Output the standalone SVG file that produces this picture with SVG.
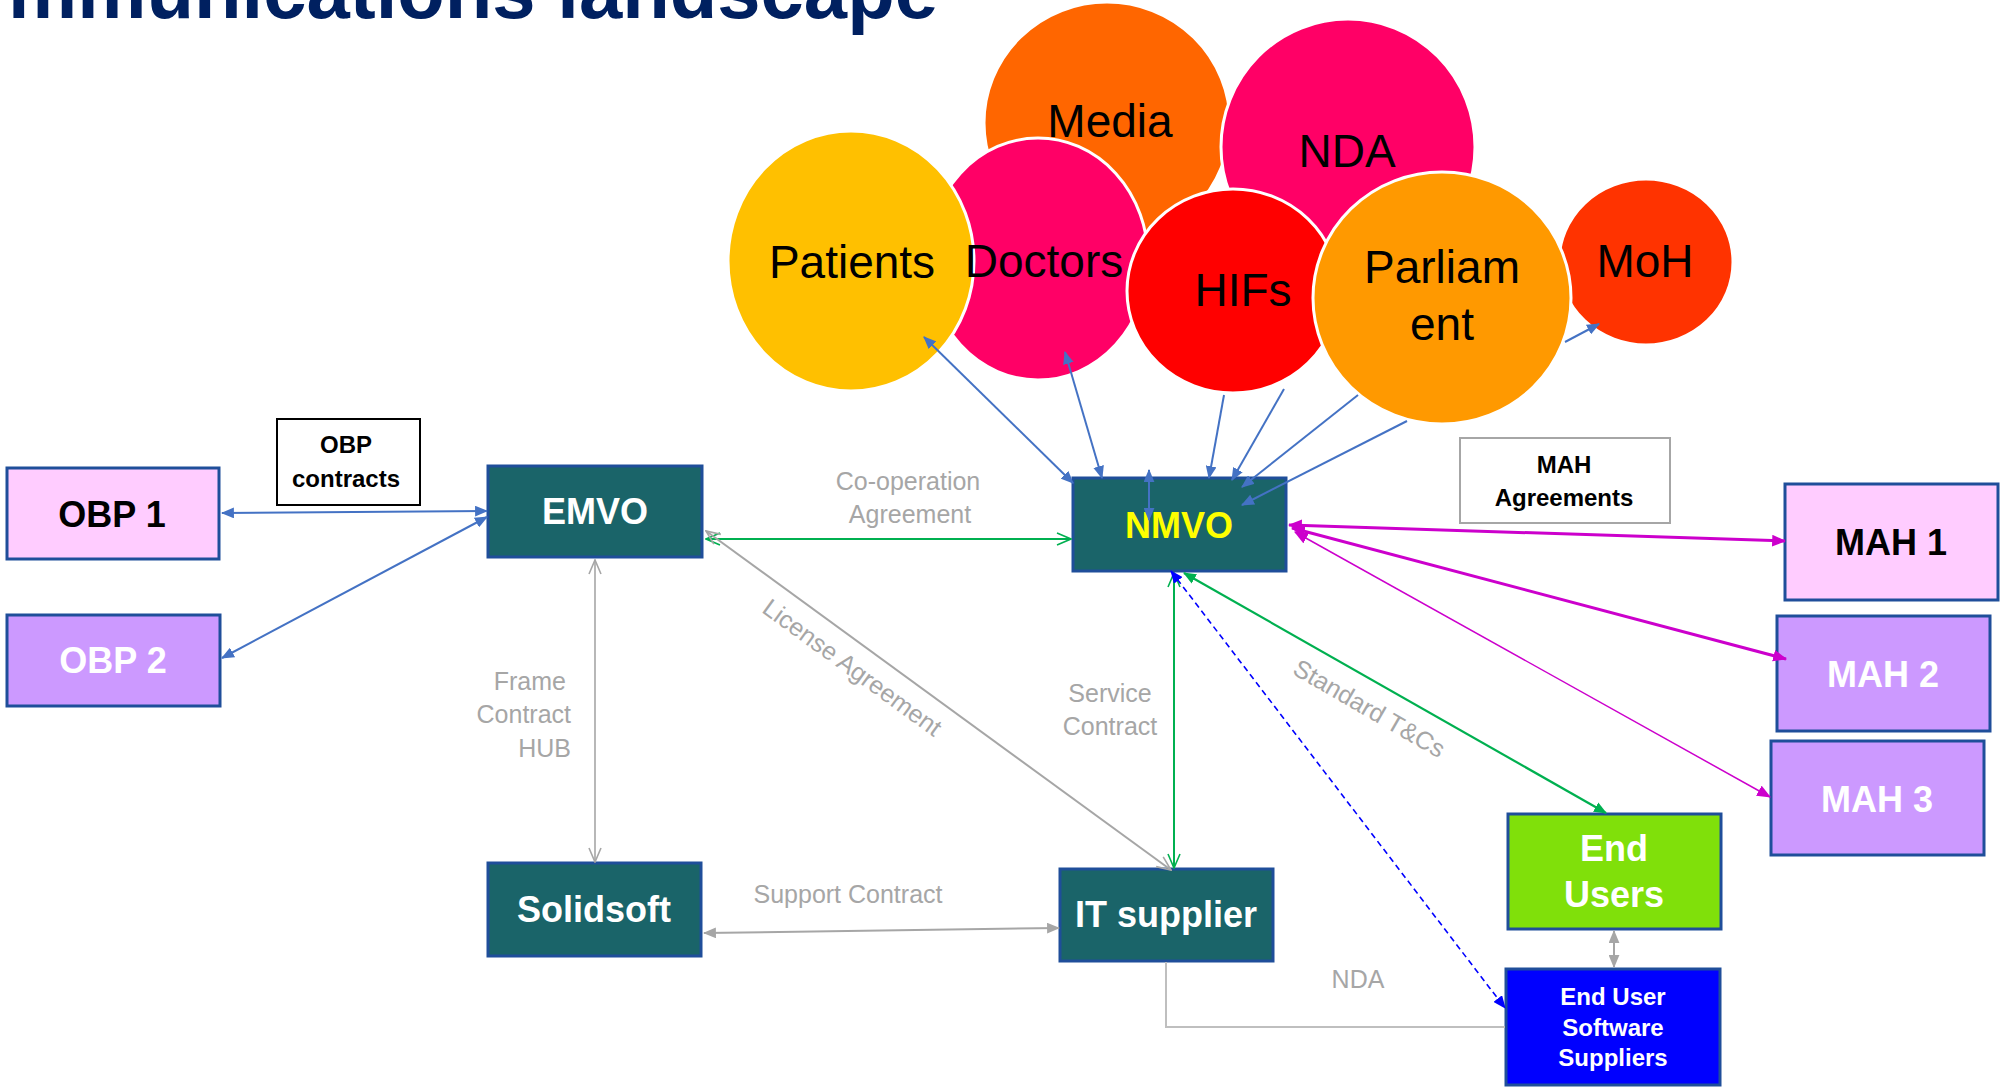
<svg xmlns="http://www.w3.org/2000/svg" width="2000" height="1088" viewBox="0 0 2000 1088">
<style>
text{font-family:"Liberation Sans",Arial,sans-serif;text-anchor:middle}
.title{font-size:80px;font-weight:bold;fill:#002060;text-anchor:start}
.circ{stroke:#fff;stroke-width:3}
.ctx{fill:#000;font-size:46px}
.box{stroke:#1F4E9A;stroke-width:3}
.teal{fill:#1A6469}
.lbl{font-size:36px;font-weight:bold}
.note{fill:#fff;stroke:#000;stroke-width:2}
.notetx{font-size:24px;font-weight:bold;fill:#000}
.gl{font-size:25px;fill:#A6A6A6}
.c{fill:none}
</style>
<defs>
<marker id="aBlue" viewBox="0 0 12 10" refX="11" refY="5" markerWidth="13" markerHeight="11" markerUnits="userSpaceOnUse" orient="auto-start-reverse"><path d="M0,0 L12,5 L0,10 z" fill="#4472C4"/></marker>
<marker id="aMag" viewBox="0 0 12 10" refX="11" refY="5" markerWidth="14" markerHeight="12" markerUnits="userSpaceOnUse" orient="auto-start-reverse"><path d="M0,0 L12,5 L0,10 z" fill="#CC00CC"/></marker>
<marker id="aGreen" viewBox="0 0 12 10" refX="11" refY="5" markerWidth="13" markerHeight="11" markerUnits="userSpaceOnUse" orient="auto-start-reverse"><path d="M0,0 L12,5 L0,10 z" fill="#00B050"/></marker>
<marker id="aPB" viewBox="0 0 12 10" refX="11" refY="5" markerWidth="13" markerHeight="11" markerUnits="userSpaceOnUse" orient="auto-start-reverse"><path d="M0,0 L12,5 L0,10 z" fill="#0000FF"/></marker>
<marker id="aGray" viewBox="0 0 12 10" refX="11" refY="5" markerWidth="13" markerHeight="11" markerUnits="userSpaceOnUse" orient="auto-start-reverse"><path d="M0,0 L12,5 L0,10 z" fill="#A6A6A6"/></marker>
<marker id="oGray" viewBox="0 0 16 14" refX="15" refY="7" markerWidth="16" markerHeight="14" markerUnits="userSpaceOnUse" orient="auto-start-reverse"><path d="M1,1 L15,7 L1,13" fill="none" stroke="#A6A6A6" stroke-width="1.6"/></marker>
<marker id="oGreen" viewBox="0 0 16 14" refX="15" refY="7" markerWidth="16" markerHeight="14" markerUnits="userSpaceOnUse" orient="auto-start-reverse"><path d="M1,1 L15,7 L1,13" fill="none" stroke="#00B050" stroke-width="1.6"/></marker>
</defs>
<rect width="2000" height="1088" fill="#fff"/>
<text class="title" x="8" y="18" textLength="930" lengthAdjust="spacingAndGlyphs">mmunications landscape</text>

<g id="circles">
<g id="media"><ellipse class="circ" cx="1107" cy="123" rx="123" ry="121" fill="#FF6600"/><text class="ctx" x="1110" y="137" font-size="50">Media</text></g>
<g id="nda"><ellipse class="circ" cx="1348" cy="147" rx="127" ry="128" fill="#FF0066"/><text class="ctx" x="1347" y="167">NDA</text></g>
<g id="moh"><ellipse class="circ" cx="1646" cy="262" rx="87" ry="83" fill="#FF3300"/><text class="ctx" x="1645" y="277" font-size="50">MoH</text></g>
<g id="doctors"><ellipse class="circ" cx="1038" cy="259" rx="110" ry="121" fill="#FF0066"/></g>
<g id="patients"><ellipse class="circ" cx="851" cy="261" rx="123" ry="130" fill="#FFC000"/><text class="ctx" x="852" y="278" font-size="42">Patients</text></g>
<text id="doctors-label" class="ctx" x="1044" y="277" font-size="42">Doctors</text>
<g id="hifs"><ellipse class="circ" cx="1233" cy="291" rx="106" ry="102" fill="#FF0000"/><text class="ctx" x="1243" y="306">HIFs</text></g>
<g id="parliament"><ellipse class="circ" cx="1442" cy="298" rx="129" ry="126" fill="#FF9900"/><text class="ctx" x="1442" y="283">Parliam</text><text class="ctx" x="1442" y="340">ent</text></g>
</g>

<g id="obp-contracts"><rect class="note" x="277" y="419" width="143" height="86"/><text class="notetx" x="346" y="453">OBP</text><text class="notetx" x="346" y="487">contracts</text></g>
<g id="mah-agreements"><rect x="1460" y="438" width="210" height="85" fill="#fff" stroke="#A6A6A6" stroke-width="2"/><text class="notetx" x="1564" y="473">MAH</text><text class="notetx" x="1564" y="506">Agreements</text></g>

<g id="obp1"><rect class="box" x="7" y="468" width="212" height="91" fill="#FFCCFF"/><text class="lbl" x="112" y="527" fill="#000">OBP 1</text></g>
<g id="obp2"><rect class="box" x="7" y="615" width="213" height="91" fill="#CC99FF"/><text class="lbl" x="113" y="673" fill="#fff">OBP 2</text></g>
<g id="emvo"><rect class="box teal" x="488" y="466" width="214" height="91"/><text class="lbl" x="595" y="524" fill="#fff">EMVO</text></g>
<g id="nmvo"><rect class="box teal" x="1073" y="478" width="213" height="93"/><text class="lbl" x="1179" y="538" fill="#FFFF00" font-size="38">NMVO</text></g>
<g id="solidsoft"><rect class="box teal" x="488" y="863" width="213" height="93"/><text class="lbl" x="594" y="922" fill="#fff">Solidsoft</text></g>
<g id="it-supplier"><rect class="box teal" x="1060" y="869" width="213" height="92"/><text class="lbl" x="1166" y="927" fill="#fff">IT supplier</text></g>
<g id="mah1"><rect class="box" x="1785" y="484" width="213" height="116" fill="#FFCCFF"/><text class="lbl" x="1891" y="555" fill="#000" font-size="38">MAH 1</text></g>
<g id="mah2"><rect class="box" x="1777" y="616" width="213" height="115" fill="#CC99FF"/><text class="lbl" x="1883" y="687" fill="#fff" font-size="38">MAH 2</text></g>
<g id="mah3"><rect class="box" x="1771" y="741" width="213" height="114" fill="#CC99FF"/><text class="lbl" x="1877" y="812" fill="#fff" font-size="38">MAH 3</text></g>
<g id="end-users"><rect class="box" x="1508" y="814" width="213" height="115" fill="#80E00A"/><text class="lbl" x="1614" y="861" fill="#fff">End</text><text class="lbl" x="1614" y="907" fill="#fff">Users</text></g>
<g id="eu-software"><rect class="box" x="1506" y="969" width="214" height="116" fill="#0000FF"/><text class="notetx" x="1613" y="1005" style="fill:#fff">End User</text><text class="notetx" x="1613" y="1036" style="fill:#fff">Software</text><text class="notetx" x="1613" y="1066" style="fill:#fff">Suppliers</text></g>

<g id="connectors">
<path class="c" d="M222,513 L487,511" stroke="#4472C4" stroke-width="2" marker-start="url(#aBlue)" marker-end="url(#aBlue)"/>
<path class="c" d="M222,658 L487,517" stroke="#4472C4" stroke-width="2" marker-start="url(#aBlue)" marker-end="url(#aBlue)"/>
<path class="c" d="M706,539 L1071,539" stroke="#00B050" stroke-width="2" marker-start="url(#oGreen)" marker-end="url(#oGreen)"/>
<path class="c" d="M706,531 L1171,870" stroke="#A6A6A6" stroke-width="2" marker-start="url(#oGray)" marker-end="url(#oGray)"/>
<path class="c" d="M595,560 L595,862" stroke="#A6A6A6" stroke-width="1.6" marker-start="url(#oGray)" marker-end="url(#oGray)"/>
<path class="c" d="M1174,573 L1174,868" stroke="#00B050" stroke-width="2" marker-start="url(#oGreen)" marker-end="url(#oGreen)"/>
<path class="c" d="M1171,571 L1505,1008" stroke="#0000FF" stroke-width="1.6" stroke-dasharray="6,4" marker-start="url(#aPB)" marker-end="url(#aPB)"/>
<path class="c" d="M1184,573 L1606,813" stroke="#00B050" stroke-width="2.2" marker-start="url(#aGreen)" marker-end="url(#aGreen)"/>
<path class="c" d="M704,933 L1059,928" stroke="#A6A6A6" stroke-width="2" marker-start="url(#aGray)" marker-end="url(#aGray)"/>
<path class="c" d="M1614,931 L1614,967" stroke="#A6A6A6" stroke-width="2" marker-start="url(#aGray)" marker-end="url(#aGray)"/>
<path class="c" d="M1166,962 L1166,1027 L1505,1027" stroke="#BFBFBF" stroke-width="2"/>
<path class="c" d="M924,337 L1073,483" stroke="#4472C4" stroke-width="2" marker-start="url(#aBlue)" marker-end="url(#aBlue)"/>
<path class="c" d="M1065,352 L1102,478" stroke="#4472C4" stroke-width="2" marker-start="url(#aBlue)" marker-end="url(#aBlue)"/>
<path class="c" d="M1224,395 L1209,478" stroke="#4472C4" stroke-width="2" marker-end="url(#aBlue)"/>
<path class="c" d="M1284,389 L1232,480" stroke="#4472C4" stroke-width="2" marker-end="url(#aBlue)"/>
<path class="c" d="M1358,395 L1242,487" stroke="#4472C4" stroke-width="2" marker-end="url(#aBlue)"/>
<path class="c" d="M1407,421 L1242,505" stroke="#4472C4" stroke-width="2" marker-end="url(#aBlue)"/>
<path class="c" d="M1149,470 L1149,520" stroke="#4472C4" stroke-width="2" marker-start="url(#aBlue)" marker-end="url(#aBlue)"/>
<path class="c" d="M1565,342 L1599,324" stroke="#4472C4" stroke-width="2" marker-end="url(#aBlue)"/>
<path class="c" d="M1289,525 L1785,541" stroke="#CC00CC" stroke-width="3" marker-start="url(#aMag)" marker-end="url(#aMag)"/>
<path class="c" d="M1292,528 L1786,659" stroke="#CC00CC" stroke-width="3" marker-start="url(#aMag)" marker-end="url(#aMag)"/>
<path class="c" d="M1295,532 L1770,797" stroke="#CC00CC" stroke-width="1.5" marker-start="url(#aMag)" marker-end="url(#aMag)"/>
</g>

<g id="labels">
<text class="gl" x="908" y="490">Co-operation</text>
<text class="gl" x="910" y="523">Agreement</text>
<text class="gl" x="566" y="690" style="text-anchor:end">Frame</text>
<text class="gl" x="571" y="723" style="text-anchor:end">Contract</text>
<text class="gl" x="571" y="757" style="text-anchor:end">HUB</text>
<text class="gl" x="1110" y="702">Service</text>
<text class="gl" x="1110" y="735">Contract</text>
<text class="gl" x="848" y="903">Support Contract</text>
<text class="gl" x="1358" y="988">NDA</text>
<text class="gl" transform="translate(852,668) rotate(36)" x="0" y="8">License Agreement</text>
<text class="gl" transform="translate(1369,709) rotate(30)" x="0" y="8">Standard T&amp;Cs</text>
</g>
</svg>
